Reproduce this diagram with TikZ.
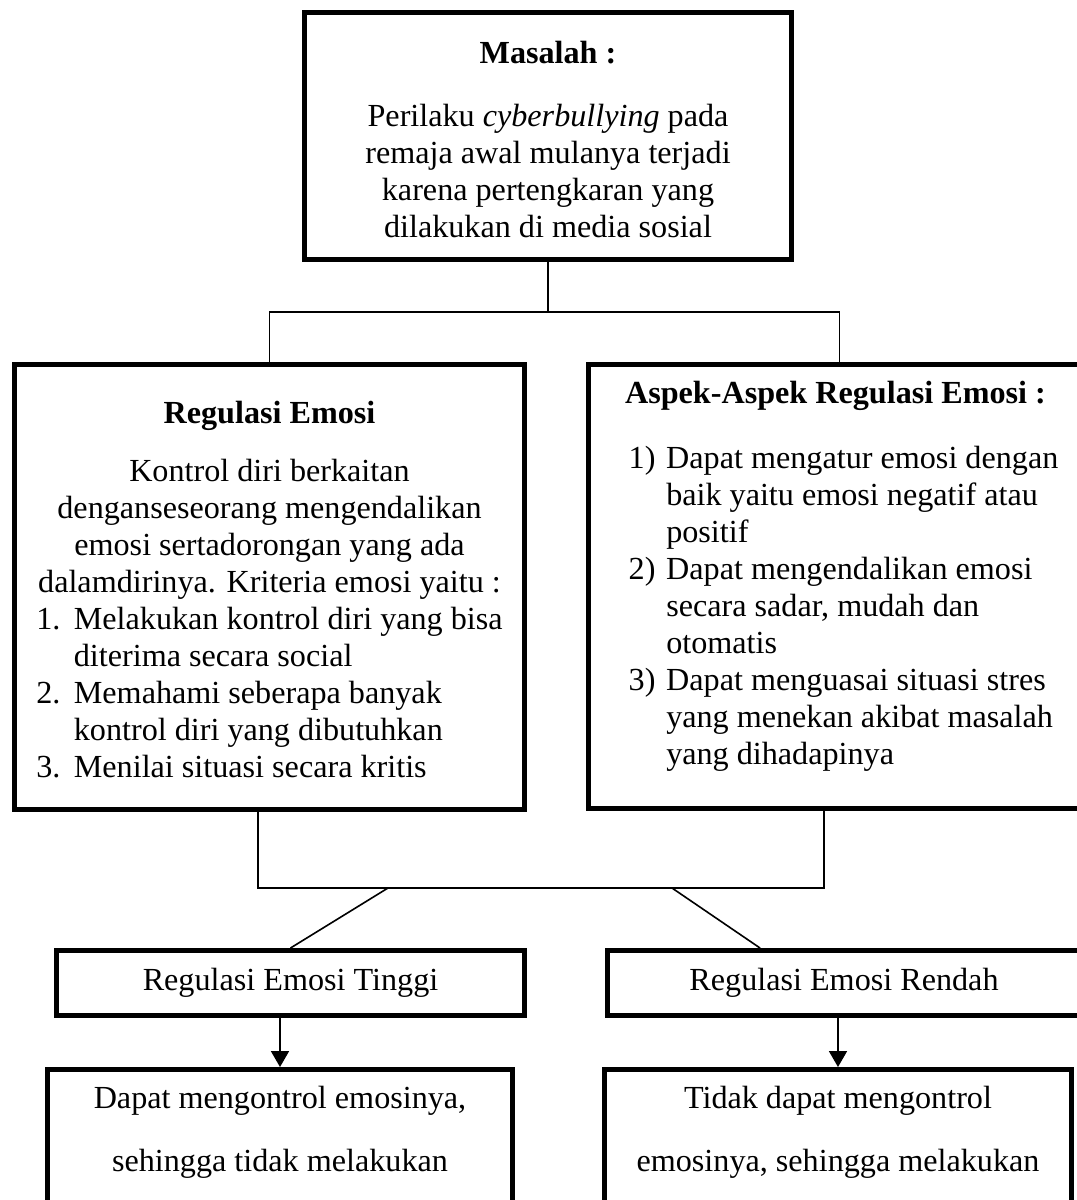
\documentclass[tikz,border=0pt]{standalone}
\usepackage{fontspec}
\setmainfont{Liberation Serif}
\usepackage{tikz}
\usetikzlibrary{positioning}
\usetikzlibrary{calc,arrows}
\tikzset{
  kotak/.style = {align=center, inner sep=0pt, text centered,
    font=\fontsize{12}{13.8}\selectfont},
  kotak_t/.style = {kotak, rectangle, draw=black,
    line width=1.8pt},% kotak tebal
  kotak_s/.style = {kotak_t, minimum width=174.5pt,
    minimum height=24.3pt},% kotak satu baris
  garis/.style = {line width=0.6pt}% garis penghubung
}
\newcommand{\tengah}[1]{\multicolumn{1}{@{}c@{}}{#1}}
\newcommand{\butir}[2][0pt]{\hspace*{#1}\makebox[14pt][l]{#2}}

\begin{document}
\begin{tikzpicture}[x=0.3731pt, y=-0.3731pt, >=triangle 60]
\useasboundingbox (0,0) rectangle (1077,1200);
\clip (0,0) rectangle (1077,1200);
\node [kotak_t, minimum width=181.8pt, minimum height=92.2pt] (masalah) at (548,136)
  {\begin{tabular}{@{}c@{}}
    \rule{0pt}{14.9pt}\textbf{Masalah :}\\[9.7pt]
    Perilaku \textit{cyberbullying} pada\\
    remaja awal mulanya terjadi\\
    karena pertengkaran yang\\
    dilakukan di media sosial
  \end{tabular}};
\node [kotak_t, minimum width=190.4pt, minimum height=166.1pt] (regulasi) at (269.5,587)
  {\begin{tabular}{@{}l@{}}
    \tengah{\rule{0pt}{14.1pt}\textbf{Regulasi Emosi}}\\[7.8pt]
    \tengah{Kontrol diri berkaitan}\\
    \tengah{denganseseorang mengendalikan}\\
    \tengah{emosi sertadorongan yang ada}\\
    \tengah{dalamdirinya. Kriteria emosi yaitu :}\\
    \butir{1.}Melakukan kontrol diri yang bisa\\
    \butir{}diterima secara social\\
    \butir{2.}Memahami seberapa banyak\\
    \butir{}kontrol diri yang dibutuhkan\\
    \butir{3.}Menilai situasi secara kritis
  \end{tabular}};
\node [kotak_t, minimum width=184.4pt, minimum height=165.7pt] (aspek) at (835.5,586.5)
  {\begin{tabular}{@{}l@{}}
    \tengah{\textbf{Aspek-Aspek Regulasi Emosi :}}\\[10.4pt]
    \butir[6pt]{1)}Dapat mengatur emosi dengan\\
    \butir[6pt]{}baik yaitu emosi negatif atau\\
    \butir[6pt]{}positif\\
    \butir[6pt]{2)}Dapat mengendalikan emosi\\
    \butir[6pt]{}secara sadar, mudah dan\\
    \butir[6pt]{}otomatis\\
    \butir[6pt]{3)}Dapat menguasai situasi stres\\
    \butir[6pt]{}yang menekan akibat masalah\\
    \butir[6pt]{}yang dihadapinya\\[7.3pt]
  \end{tabular}};
\node [kotak_s] (tinggi) at (290.5,983) {Regulasi Emosi Tinggi};
\node [kotak_s, minimum width=176.5pt] (rendah) at (844,983) {Regulasi Emosi Rendah};
\node [kotak_t, minimum width=173.6pt, anchor=north, inner ysep=4.9pt] (kontrol_t) at (280,1067)
  {\begin{tabular}{@{}c@{}}
    Dapat mengontrol emosinya,\\[9.7pt]
    sehingga tidak melakukan\\[40pt]
  \end{tabular}};
\node [kotak_t, minimum width=174.3pt, anchor=north, inner ysep=4.9pt] (kontrol_r) at (838,1067)
  {\begin{tabular}{@{}c@{}}
    Tidak dapat mengontrol\\[9.7pt]
    emosinya, sehingga melakukan\\[40pt]
  \end{tabular}};
% cabang atas
\coordinate (cabang) at (548,312);
\coordinate (turun_n) at ($(aspek.north)+(4,0)$);
\draw [garis] (masalah.south) -- (cabang);
\draw [garis] (regulasi.north) |- (cabang) -| (turun_n);
% gabungan bawah
\coordinate (gabung_k) at (258,888);
\coordinate (gabung_n) at (824,888);
\draw [garis] (regulasi.south -| gabung_k) -- (gabung_k) -- (gabung_n)
  -- (aspek.south -| gabung_n);
\coordinate (titik_k) at (388,888);
\coordinate (titik_n) at (672,888);
\coordinate (ujung_n) at ($(rendah.north west)+(155,0)$);
\draw [garis] (titik_k) -- (tinggi.north);
\draw [garis] (titik_n) -- (ujung_n);
\draw [garis, ->] (kontrol_t.north |- tinggi.south) -- (kontrol_t.north);
\draw [garis, ->] (kontrol_r.north |- rendah.south) -- (kontrol_r.north);
\end{tikzpicture}
\end{document}
